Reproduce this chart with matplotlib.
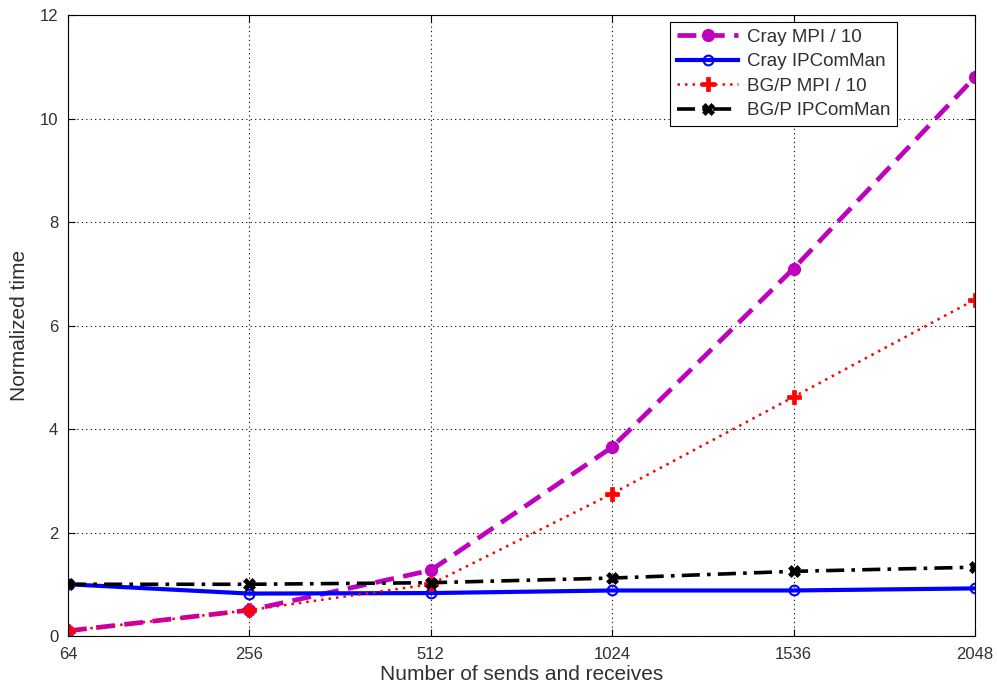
import matplotlib
matplotlib.use("Agg")
import matplotlib.pyplot as plt

plt.rcParams['font.family'] = ['Liberation Sans', 'DejaVu Sans']

# x categories (equally spaced on the axis)
sizes = ['64', '256', '512', '1024', '1536', '2048']

# normalized time
cray_mpi = [0.10, 0.50, 1.27, 3.65, 7.10, 10.80]
cray_ipc = [1.00, 0.82, 0.83, 0.88, 0.88, 0.92]
bgp_mpi = [0.10, 0.50, 1.00, 2.75, 4.62, 6.50]
bgp_ipc = [1.00, 1.00, 1.03, 1.12, 1.25, 1.33]

x = list(range(len(sizes)))
txt = '#303030'

fig = plt.figure(figsize=(9.97, 6.89), dpi=100)
ax = fig.add_axes([0.0682, 0.0769, 0.9097, 0.9013])

mag = (0.75, 0, 0.75)
ax.plot(x, cray_mpi, color=mag, linestyle=(0, (4, 2)), linewidth=3.4,
        marker='o', markersize=8.5, markerfacecolor=mag, markeredgecolor=mag,
        label='Cray MPI / 10')
ax.plot(x, cray_ipc, color='blue', linestyle='-', linewidth=3,
        marker='o', markersize=7, markerfacecolor='none', markeredgewidth=1.5,
        label='Cray IPComMan')
ax.plot(x, bgp_mpi, color='red', linestyle=(0, (1, 2)), linewidth=1.8,
        marker='P', markersize=10, markeredgecolor='red', markerfacecolor='red',
        markeredgewidth=0.5, label='BG/P MPI / 10')
ax.plot(x, bgp_ipc, color='black', linestyle=(0, (5, 2, 1, 2)), linewidth=2.6,
        marker='X', markersize=9, markeredgewidth=0.5, label='BG/P IPComMan')

ax.set_xlim(0, len(sizes) - 1)
ax.set_ylim(0, 12)
ax.set_xticks(x)
ax.set_xticklabels(sizes)
ax.set_yticks(range(0, 13, 2))
ax.tick_params(direction='in', labelsize=12, length=5, top=True, right=True,
               labelcolor=txt)
ax.tick_params(axis='y', pad=7)
ax.tick_params(axis='x', pad=8)
ax.grid(True, color='black', linestyle=(0, (1, 3)), linewidth=0.8)
for s in ax.spines.values():
    s.set_linewidth(0.8)

ax.set_xlabel('Number of sends and receives', fontsize=15, labelpad=2, color=txt)
ax.set_ylabel('Normalized time', fontsize=15, labelpad=8, color=txt)

leg = ax.legend(loc='upper right', bbox_to_anchor=(0.914, 0.989), fontsize=13.5,
                fancybox=False, framealpha=1, edgecolor='black',
                handlelength=3.3, handletextpad=0.45, borderpad=0.35,
                borderaxespad=0, labelspacing=0.4)
leg.get_frame().set_linewidth(0.8)
for t in leg.get_texts():
    t.set_color(txt)

fig.savefig('out.png', dpi=100)
